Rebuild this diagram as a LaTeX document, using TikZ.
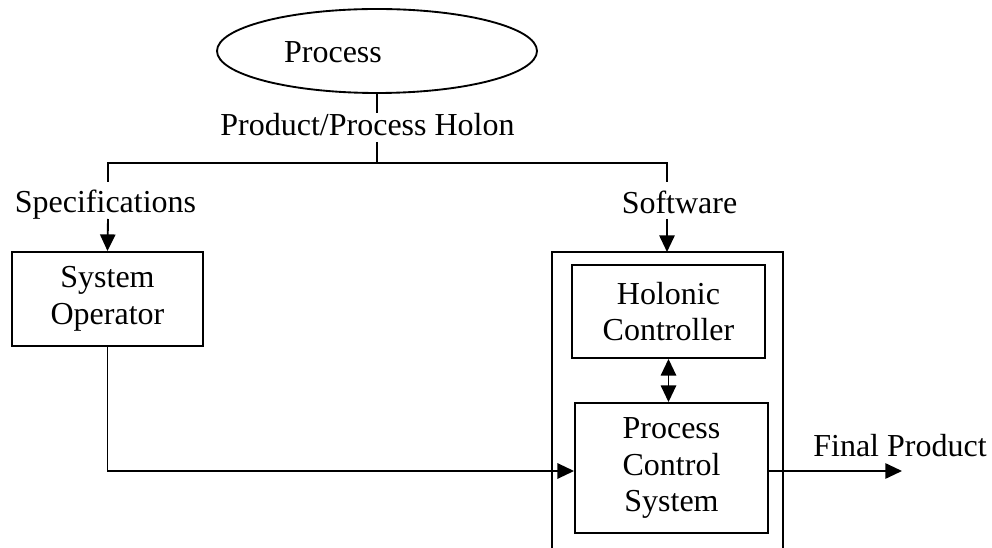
\documentclass[tikz,border=0pt]{standalone}
\usepackage{fontspec}
\setmainfont{Liberation Serif}
\usetikzlibrary{shapes.geometric,arrows.meta}
\begin{document}
\begin{tikzpicture}[x=0.75pt,y=-0.75pt, line width=1.4pt,
  txt/.style={font=\fontsize{24}{27.6}\selectfont, inner sep=0pt, align=center},
  box/.style={draw, txt, rectangle, line width=1.4pt},
  arr/.style={-{Triangle[length=12.5pt,width=11.5pt]}},
  darr/.style={{Triangle[length=12.5pt,width=11.5pt]}-{Triangle[length=12.5pt,width=11.5pt]}}]
\useasboundingbox (0,0) rectangle (992,548);

% top: process ellipse and holon label
\node[draw, ellipse, minimum width=240pt, minimum height=63pt, inner sep=0pt] (proc) at (377,51) {};
\node[txt, anchor=base] (proctext) at (333,63) {Process};
\node[txt, anchor=base] (holon) at (367.5,136) {Product/Process Holon};

% branch coordinates
\coordinate (split) at (377,163);
\coordinate (lft) at (108,163);
\coordinate (rgt) at (667,163);
\coordinate (splittop) at (377,142);

\draw (proc.south) -- ++(0,19);
\draw (splittop) -- (split);
\draw ([yshift=-14.25pt]lft) -- (lft) -- (rgt) -- ([yshift=-14.25pt]rgt);

% left branch
\node[txt, anchor=base] (spec) at (105.5,213) {Specifications};
\node[box, minimum width=143.25pt, minimum height=70.5pt] (sysop) at (107.5,299) {System\\Operator};
\draw[arr] (108,219) -- (sysop.north);

% right branch
\node[txt, anchor=base] (soft) at (679.5,214) {Software};
\coordinate (outtop) at (667,252);
\draw (552,552) -- (552,252) -- (783,252) -- (783,552);
\draw[arr] (667,219) -- (outtop);

\node[box, minimum width=144.75pt, minimum height=69.75pt] (hc) at (668.5,311.5) {Holonic\\Controller};
\node[box, minimum width=144.75pt, minimum height=97.5pt] (pcs) at (671.5,468) {Process\\Control\\System};
\draw[darr] (hc.south) -- (hc.south |- pcs.north);

\draw[arr] (sysop.south) |- (pcs.west |- 0,471);

% output
\node[txt, anchor=base] (final) at (900,457) {Final Product};
\draw[arr] (pcs.east |- 0,471) -- (902,471);
\end{tikzpicture}
\end{document}
